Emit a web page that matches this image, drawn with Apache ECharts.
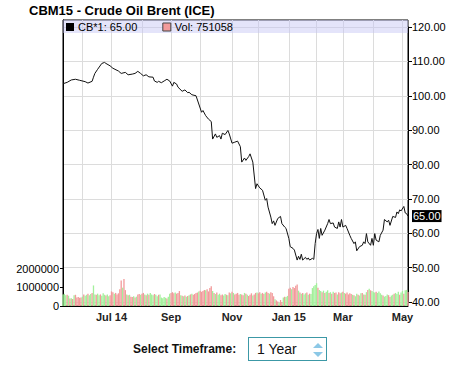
<!DOCTYPE html>
<html><head><meta charset="utf-8">
<script src="https://cdn.jsdelivr.net/npm/echarts@6/dist/echarts.min.js"></script>
<style>
html,body{margin:0;padding:0;background:#fff;}
#chart{position:absolute;left:0;top:0;width:450px;height:370px;}
#tf{position:absolute;left:133px;top:342px;font:bold 12px "Liberation Sans",Arial,sans-serif;color:#111;white-space:nowrap;}
#sel{position:absolute;left:248px;top:337px;width:77px;height:22px;border:1px solid #3c98a6;}
#sel span{position:absolute;left:8px;top:3px;font:14px "Liberation Sans",Arial,sans-serif;color:#111;}
.arr{position:absolute;left:64px;width:0;height:0;border-left:5px solid transparent;border-right:5px solid transparent;}
#up{top:5px;border-bottom:5px solid #8cc8e6;}
#dn{top:14px;border-top:5px solid #8cc8e6;}
</style></head>
<body>
<div id="chart"></div>
<div id="tf">Select Timeframe:</div>
<div id="sel"><span>1 Year</span><div class="arr" id="up"></div><div class="arr" id="dn"></div></div>
<script>
// ---- data ----
const titleText = 'CBM15 - Crude Oil Brent (ICE)';
const startDate = '2014-05-12';
const endDate = '2015-05-07';
const holidays = ['2014-05-26','2014-07-04','2014-09-01','2014-11-27','2014-12-25','2015-01-01','2015-01-19','2015-02-16','2015-04-03'];
const tickMonths = ['2014-07','2014-09','2014-11','2015-01','2015-03','2015-05'];
const tickLabels = ['Jul 14','Sep','Nov','Jan 15','Mar','May'];
const priceTicks = [40,50,60,70,80,90,100,110,120];
const volumeTicks = [0,1000000,2000000];

// trading-day number and price (CB*1)
const priceDay = [0,3,6,9,12,16,18,21,22,23,25,28,30,31,34,36,40,42,45,47,50,52,54,56,58,60,62,65,66,68,69,71,73,75,77,79,80,82,83,86,88,90,91,93,96,98,100,101,103,105,107,108,110,111,113,114,115,117,119,120,122,124,126,128,129,131,132,134,135,137,139,140,142,144,146,147,148,150,151,152,153,155,157,158,160,161,163,164,166,167,169,170,171,172,173,175,176,177,178,180,181,182,183,184,185,186,187,189,191,192,193,195,196,198,199,200,201,202,204,205,207,208,210,211,212,214,216,217,218,219,220,222,223,224,225,226,228,229,231,232,234,235,236,238,240,241,242,243,244,246,247,248,249];
const priceValue = [103.5,103.9,104.6,104.8,104.5,104.1,103.7,104.2,105.4,106.5,107.7,109.4,109.7,109.4,108.7,108.0,107.2,106.5,106.8,106.1,106.3,106.5,107.1,106.5,105.8,106.1,105.5,105.4,104.3,103.9,104.2,103.8,104.3,104.8,104.3,102.8,103.9,103.4,102.5,101.3,101.7,100.9,101.0,100.3,100.0,97.6,95.2,95.7,94.2,93.2,92.5,87.4,88.9,87.9,88.4,87.4,89.1,88.7,89.9,88.9,86.2,86.5,86.8,85.2,80.7,81.9,81.2,82.3,83.1,80.7,73.0,74.4,73.2,72.5,69.6,70.1,67.6,64.7,62.8,63.6,62.3,64.3,64.9,62.8,61.8,61.4,58.5,56.1,55.6,55.1,52.2,53.3,52.4,53.9,52.2,53.0,52.4,52.8,52.2,52.7,52.4,57.0,59.9,61.1,58.5,61.4,59.4,60.9,62.8,64.0,62.8,63.0,61.8,61.4,63.3,61.8,64.0,61.8,62.3,61.4,59.4,58.5,57.0,57.5,54.9,56.1,56.5,57.5,57.0,59.9,57.5,56.5,58.5,56.5,59.9,58.0,57.5,59.4,60.9,64.0,63.3,63.8,62.3,64.9,64.6,66.2,65.7,66.8,66.5,67.8,65.9,65.7,65.0];

// daily volume (one per trading day)
const volumeValue = [
620000,650000,580000,600000,550000,400000,420000,380000,580000,600000,
450000,480000,440000,460000,500000,620000,550000,600000,660000,580000,
640000,700000,1100000,620000,600000,660000,580000,620000,550000,680000,
600000,560000,620000,520000,580000,780000,740000,660000,700000,620000,
680000,900000,1370000,980000,1450000,850000,620000,580000,600000,500000,
480000,520000,460000,500000,620000,640000,600000,660000,700000,620000,
580000,660000,600000,700000,620000,580000,640000,600000,520000,600000,
620000,450000,420000,480000,440000,400000,500000,660000,700000,740000,
680000,720000,660000,700000,800000,580000,550000,520000,560000,500000,
540000,580000,620000,660000,600000,640000,700000,720000,780000,820000,
760000,800000,860000,840000,900000,780000,960000,1050000,800000,700000,
640000,720000,600000,660000,580000,620000,560000,640000,600000,580000,
720000,680000,760000,700000,620000,660000,700000,600000,640000,620000,
580000,700000,660000,600000,540000,600000,680000,560000,620000,700000,
720000,680000,740000,660000,700000,640000,720000,760000,700000,660000,
740000,700000,520000,360000,300000,240000,180000,320000,220000,460000,
500000,480000,540000,920000,980000,900000,1020000,960000,1080000,1150000,
820000,720000,660000,700000,620000,680000,720000,600000,660000,640000,
960000,1050000,1120000,1220000,980000,860000,800000,740000,820000,700000,
760000,840000,700000,740000,660000,760000,700000,720000,620000,740000,
680000,720000,760000,700000,660000,720000,620000,680000,640000,600000,
580000,520000,660000,600000,560000,680000,700000,620000,600000,740000,
860000,920000,840000,800000,740000,720000,760000,700000,780000,680000,
600000,560000,500000,540000,620000,580000,480000,560000,600000,660000,
700000,640000,760000,600000,720000,800000,660000,840000,860000,751058];
// up (u) / down (d) day for each volume bar
const volumeDir = ['uuudududud','dddduduudu','uduuduuduu','uduudddudd','ddduddudud',
'dududduddu','duduuuduud','uuuuuduudd','dudddududu','dududdddud',
'ddduddddud','uduudduudu','dududdddud','dududddudd','uddudduddu',
'dddudduddu','duuddudddd','ududuududu','uuuuduudud','uudududdud',
'dududddddu','duuduududu','duduuuduuu','uduuudduud','uuuduuduud'].join('');

// ---- build ----
function fmt(d){return d.toISOString().slice(0,10);}
const days = [];
for (let d = new Date(startDate + 'T00:00:00Z'); fmt(d) <= endDate; d.setUTCDate(d.getUTCDate() + 1)) {
  const w = d.getUTCDay(), s = fmt(d);
  if (w !== 0 && w !== 6 && holidays.indexOf(s) < 0) days.push(s);
}
const monthStart = days.map((s, i) => i > 0 && s.slice(0,7) !== days[i-1].slice(0,7));
const FONT = '"Liberation Sans", Arial, sans-serif';
const GREEN = '#a3f09b', RED = '#f29b9b';

const chart = echarts.init(document.getElementById('chart'), null, {renderer: 'svg'});
const last = priceValue.length - 1;
chart.setOption({
  animation: false,
  textStyle: {fontFamily: FONT},
  title: {text: titleText, left: 29, top: 3, padding: 0, textStyle: {fontSize: 13, lineHeight: 15, fontWeight: 'bold', color: '#000', fontFamily: FONT}},
  graphic: [{type: 'rect', z: 1, shape: {x: 63, y: 20, width: 345, height: 13}, style: {fill: 'rgba(196,196,245,0.45)'}, silent: true}],
  legend: {
    left: 66, top: 21, padding: 0, itemGap: 25, itemWidth: 8, itemHeight: 8, icon: 'rect',
    textStyle: {fontSize: 11, color: '#000', lineHeight: 12, padding: [0,0,0,-1]},
    data: [{name: 'CB*1', itemStyle: {color: '#000'}}, {name: 'Vol', itemStyle: {color: RED, borderColor: '#444', borderWidth: 1}}],
    formatter: n => n === 'CB*1' ? 'CB*1: ' + priceValue[last].toFixed(2) : 'Vol: ' + volumeValue[volumeValue.length-1]
  },
  grid: [
    {left: 63, right: 42, top: 20, bottom: 64, show: true, borderColor: '#000', borderWidth: 1, backgroundColor: 'transparent'},
    {left: 63, right: 42, top: 27, bottom: 68}
  ],
  xAxis: [
    {type: 'category', gridIndex: 0, data: days, boundaryGap: false,
     axisLine: {show: true, lineStyle: {color: '#000'}}, axisTick: {show: false},
     splitLine: {show: true, interval: (i) => monthStart[i], lineStyle: {color: '#dcdcdc', width: 1}},
     axisLabel: {interval: (i, v) => monthStart[i] && tickMonths.indexOf(v.slice(0,7)) >= 0,
       formatter: v => tickLabels[tickMonths.indexOf(v.slice(0,7))],
       fontSize: 11, fontWeight: 'bold', color: '#222', margin: 5, hideOverlap: false}},
    {type: 'category', gridIndex: 1, data: days, boundaryGap: false, show: false}
  ],
  yAxis: [
    {type: 'value', gridIndex: 0, position: 'left', min: 0, max: 15300000, interval: 1000000,
     axisLine: {show: true, lineStyle: {color: '#000'}},
     axisTick: {show: true, length: 3, lineStyle: {color: '#000'}, customValues: volumeTicks},
     axisLabel: {fontSize: 11, color: '#000', margin: 4, customValues: volumeTicks, formatter: v => String(v)},
     splitLine: {show: false}},
    {type: 'value', gridIndex: 1, position: 'right', min: 40, max: 120, interval: 10,
     axisLine: {show: true, lineStyle: {color: '#000'}},
     axisTick: {show: true, length: 4, lineStyle: {color: '#000'}},
     axisLabel: {fontSize: 11, color: '#000', margin: 4, formatter: v => v.toFixed(2)},
     splitLine: {show: true, lineStyle: {color: '#dcdcdc'}}}
  ],
  series: [
    {name: 'Vol', type: 'bar', xAxisIndex: 0, yAxisIndex: 0, barWidth: '95%',
     itemStyle: {color: RED},
     data: volumeValue.map((v, i) => ({value: v, itemStyle: {color: volumeDir[i] === 'u' ? GREEN : RED}}))},
    {name: 'CB*1', type: 'line', xAxisIndex: 1, yAxisIndex: 1, showSymbol: false, symbol: 'none',
     itemStyle: {color: '#000'}, lineStyle: {color: '#111', width: 1},
     data: priceDay.map((d, i) => [d, priceValue[i]]),
     endLabel: {show: true, formatter: p => p.value[1].toFixed(2), backgroundColor: '#000', color: '#fff',
       fontSize: 11, padding: [1, 1, 0, 1], distance: 4}}
  ]
});
</script>
</body></html>
